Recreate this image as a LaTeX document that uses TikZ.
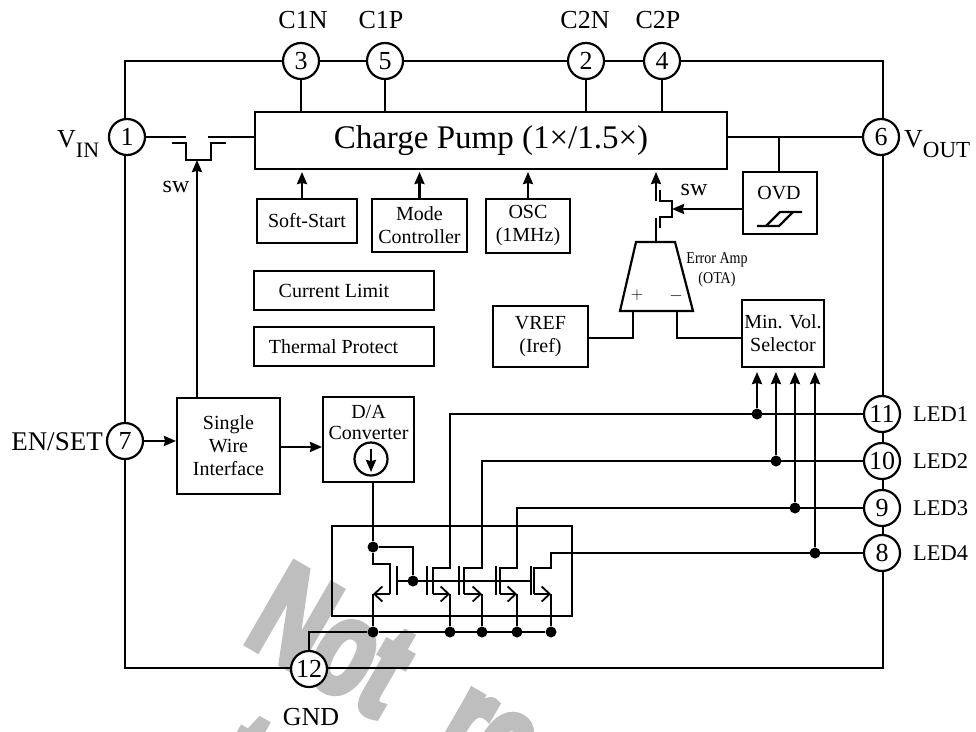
\documentclass[tikz,border=0pt]{standalone}
\usepackage{fontspec}
\setmainfont{Liberation Serif}
\newfontfamily\markfont[BoldFont={Liberation Sans Bold}, BoldFeatures={FakeBold=6}]{Liberation Sans}
\usetikzlibrary{arrows.meta, positioning, calc}
\definecolor{chipline}{HTML}{000000}
\definecolor{markgray}{HTML}{BEBEBE}
\newcommand{\pxfont}[1]{\fontsize{#1}{#1}\selectfont}
\tikzset{
  blk/.style   = {rectangle, draw=chipline, line width=2.2pt, align=center, inner sep=0pt, outer sep=0pt,
                  font=\fontsize{20}{23}\selectfont},
  pinc/.style  = {circle, draw=chipline, fill=white, line width=2.2pt, minimum size=36pt, inner sep=0pt,
                  outer sep=0pt, font=\pxfont{26}},
  lbl/.style   = {inner sep=0pt, font=\pxfont{26}},
  txt/.style   = {inner sep=0pt, align=center, font=\fontsize{20}{21}\selectfont},
  dotn/.style  = {circle, fill=chipline, inner sep=0pt, minimum size=11pt},
  wire/.style  = {line width=2.2pt, draw=chipline},
  flow/.style  = {-{Stealth[length=12pt, width=10pt, inset=1pt]}, line width=2.2pt, draw=chipline},
  barb/.style  = {-{Straight Barb[length=8pt, width=15pt, line width=1.8pt]}, line width=2.2pt, draw=chipline},
  wmk/.style   = {rotate=-30, anchor=base west, inner sep=0pt, text=markgray, font=\markfont\bfseries\pxfont{134}},
}
\begin{document}
\begin{tikzpicture}[x=1pt, y=-1pt]
	\useasboundingbox (0,0) rectangle (976,731);
	\begin{scope}
		\clip (0,0) rectangle (976,731);
		\node[wmk] (wmark) at (242,640) {\scalebox{.7}[1]{Not\hspace{.38em} re}};
		\node[wmk] (wmarkb) at (205,790) {\scalebox{.7}[1]{t}};
	\end{scope}

	\node[blk, minimum width=758pt, minimum height=607pt] (chip) at (504,364.5) {};
	\node[blk, minimum width=472pt, minimum height=57pt, font=\pxfont{33}] (pump) at (491,140.5) {Charge Pump (1×/1.5×)};
	\node[blk, minimum width=100pt, minimum height=44pt] (soft) at (307,221) {Soft-Start};
	\node[blk, minimum width=95pt, minimum height=53pt] (mode) at (419.5,225.5) {Mode\\Controller};
	\node[blk, minimum width=84pt, minimum height=54pt] (osc) at (528,226) {OSC\\(1MHz)};
	\node[blk, minimum width=180pt, minimum height=39pt] (ilim) at (344,290.5) {Current Limit\hspace*{20pt}};
	\node[blk, minimum width=180pt, minimum height=39pt] (therm) at (344,346.5) {Thermal Protect\hspace*{21pt}};
	\node[blk, minimum width=95pt, minimum height=61pt] (vref) at (540.5,336.5) {VREF\\(Iref)};
	\node[blk, minimum width=82pt, minimum height=67pt] (minsel) at (783,333.5) {Min. Vol.\\Selector};
	\node[blk, minimum width=74pt, minimum height=62pt] (ovd) at (780,203) {};
	\node[txt] (ovdtxt) at (779,193) {OVD};
	\node[blk, minimum width=103pt, minimum height=96pt] (swi) at (228.5,446) {Single\\Wire\\Interface};
	\node[blk, minimum width=91pt, minimum height=85pt] (dac) at (368.5,439.5) {};
	\node[txt] (dactxt) at (368.5,422) {D/A\\Converter};
	\node[circle, draw=chipline, line width=2.2pt, minimum size=33pt, inner sep=0pt] (isrc) at (371,459) {};
	\node[blk, minimum width=240pt, minimum height=90pt] (mirror) at (452,571) {};

	\foreach \nm/\px/\py in {3/301/61, 5/385/61, 2/586/61, 4/662/61, 1/127/137, 6/881/137,
		7/125/441, 11/882/414, 10/882/461, 9/882/508, 8/882/553, 12/309/669}{
		\node[pinc] (pin\nm) at (\px,\py) {\nm};
	}
	\foreach \nm/\tx/\px in {C1N/3/303, C1P/5/381, C2N/2/585, C2P/4/658}{
		\node[lbl] (lbl\tx) at (\px,20) {\nm};
	}
	\foreach \nm/\tx in {LED1/11, LED2/10, LED3/9, LED4/8}{
		\node[lbl, anchor=west, font=\pxfont{22.5}] (lbl\tx) at (913,0 |- pin\tx) {\nm};
	}
	\node[lbl, anchor=base west] (lbl1) at (57,147) {V\raisebox{-10pt}{\pxfont{22}IN}};
	\node[lbl, anchor=base west] (lbl6) at (904,147) {V\raisebox{-10pt}{\pxfont{23}OUT}};
	\node[lbl, font=\pxfont{27}] (lbl7) at (57,442) {EN/SET};
	\node[lbl] (lbl12) at (311,717) {GND};
	\node[lbl, font=\pxfont{24}] (swa) at (176,187) {sw};
	\node[lbl, font=\pxfont{24}] (swb) at (694,190) {sw};
	\node[lbl, align=center, font=\fontsize{16.5}{20}\selectfont] (otalbl) at (717,270) {\scalebox{.85}[1]{Error Amp}\\\scalebox{.85}[1]{(OTA)}};

	\foreach \nm in {3,5,2,4}{\draw[wire] (pin\nm) -- (pin\nm |- pump.north);}
	\draw[wire] (pin6) -- (pump.east |- pin6);
	\draw[wire] (779,0 |- ovd.north) -- (779,0 |- pin6);
	\draw[flow, shorten >=3pt] (302,0 |- soft.north) -- (302,0 |- pump.south);
	\draw[flow, shorten >=3pt] (mode.north) -- (mode.north |- pump.south);
	\draw[flow, shorten >=3pt] (osc.north) -- (osc.north |- pump.south);

	% input switch
	\coordinate (qin) at (186,137);
	\coordinate (qout) at (208,137);
	\coordinate (qgate) at (197,160);
	\draw[wire] (pin1) -- (qin);
	\draw[wire] (qout) -- (pump.west |- qout);
	\draw[wire] (172,143) -- (186,143) -- (186,160) -- (211,160) -- (211,143) -- (226,143);
	\draw[flow] (qgate |- swi.north) -- (qgate);

	% output switch
	\coordinate (mtop) at (656,201);
	\coordinate (mbot) at (656,218);
	\coordinate (mgate) at (672,209);
	\draw[flow, shorten >=3pt] (mtop) -- (mtop |- pump.south);
	\draw[wire] (660,190) -- (660,201) -- (672,201) -- (672,217) -- (660,217) -- (660,228);
	\draw[flow] (ovd.west |- mgate) -- (mgate);
	\draw[wire] (mbot) -- (656,242);

	% error amp
	\coordinate (otal) at (633,311);
	\coordinate (otar) at (677,311);
	\draw[wire] (636,242) -- (675,242) -- (693,311) -- (620,311) -- cycle;
	\node[inner sep=0pt, font=\pxfont{18}] (otap) at (637,295) {$+$};
	\node[inner sep=0pt, font=\pxfont{16}] (otam) at (676,296) {$-$};
	\draw[wire] (otal) |- ([yshift=-1.5pt]vref.east);
	\draw[wire] (otar) |- ([yshift=-4.5pt]minsel.west);

	% hysteresis
	\draw[wire] (757,226) -- (779,226) -- (793,212);
	\draw[wire] (766,226) -- (780,212) -- (802,212);

	\draw[flow, shorten >=1pt] (pin7) -- (swi.west |- pin7);
	\draw[flow, shorten >=1pt] (swi.east |- 0,447) -- (dac.west |- 0,447);
	\draw[flow] ([yshift=10pt]isrc.center) -- ([yshift=-13pt]isrc.center);

	% current mirror
	\node[dotn] (nodea) at (373,547) {};
	\node[dotn] (nodeb) at (413,581) {};
	\node[dotn] (gnd0) at (373,632) {};
	\draw[wire] (373,0 |- dac.south) -- (nodea);
	\draw[wire] (nodea) -| (nodeb);
	\draw[wire] (nodea) |- (390,564) -- (390,594);
	\draw[barb] (390,594) -- (373,594);
	\draw[wire] (373,594) -- (gnd0);
	\draw[wire] (397,566) -- (397,595);
	\draw[wire] (397,581) -- (531,581);
	\foreach \i/\gx/\cx/\ox/\nm in {1/427/433/450/11, 2/459/464/482/10, 3/496/500/517/9, 4/531/534/551/8}{
		\node[dotn] (gnd\i) at (\ox,632) {};
		\draw[wire] (\gx,566) -- (\gx,595);
		\draw[wire] (pin\nm) -| (\ox,568) -- (\cx,568) -- (\cx,594);
		\draw[barb] (\cx,594) -- (\ox,594);
		\draw[wire] (\ox,594) -- (gnd\i);
	}
	\draw[wire] (gnd4) -- (gnd0) -| (pin12);

	\foreach \nm/\px in {11/757, 10/776, 9/795, 8/815}{
		\node[dotn] (tap\nm) at (\px,0 |- pin\nm) {};
		\draw[flow, shorten >=5pt] (tap\nm) -- (tap\nm |- minsel.south);
	}
\end{tikzpicture}
\end{document}
